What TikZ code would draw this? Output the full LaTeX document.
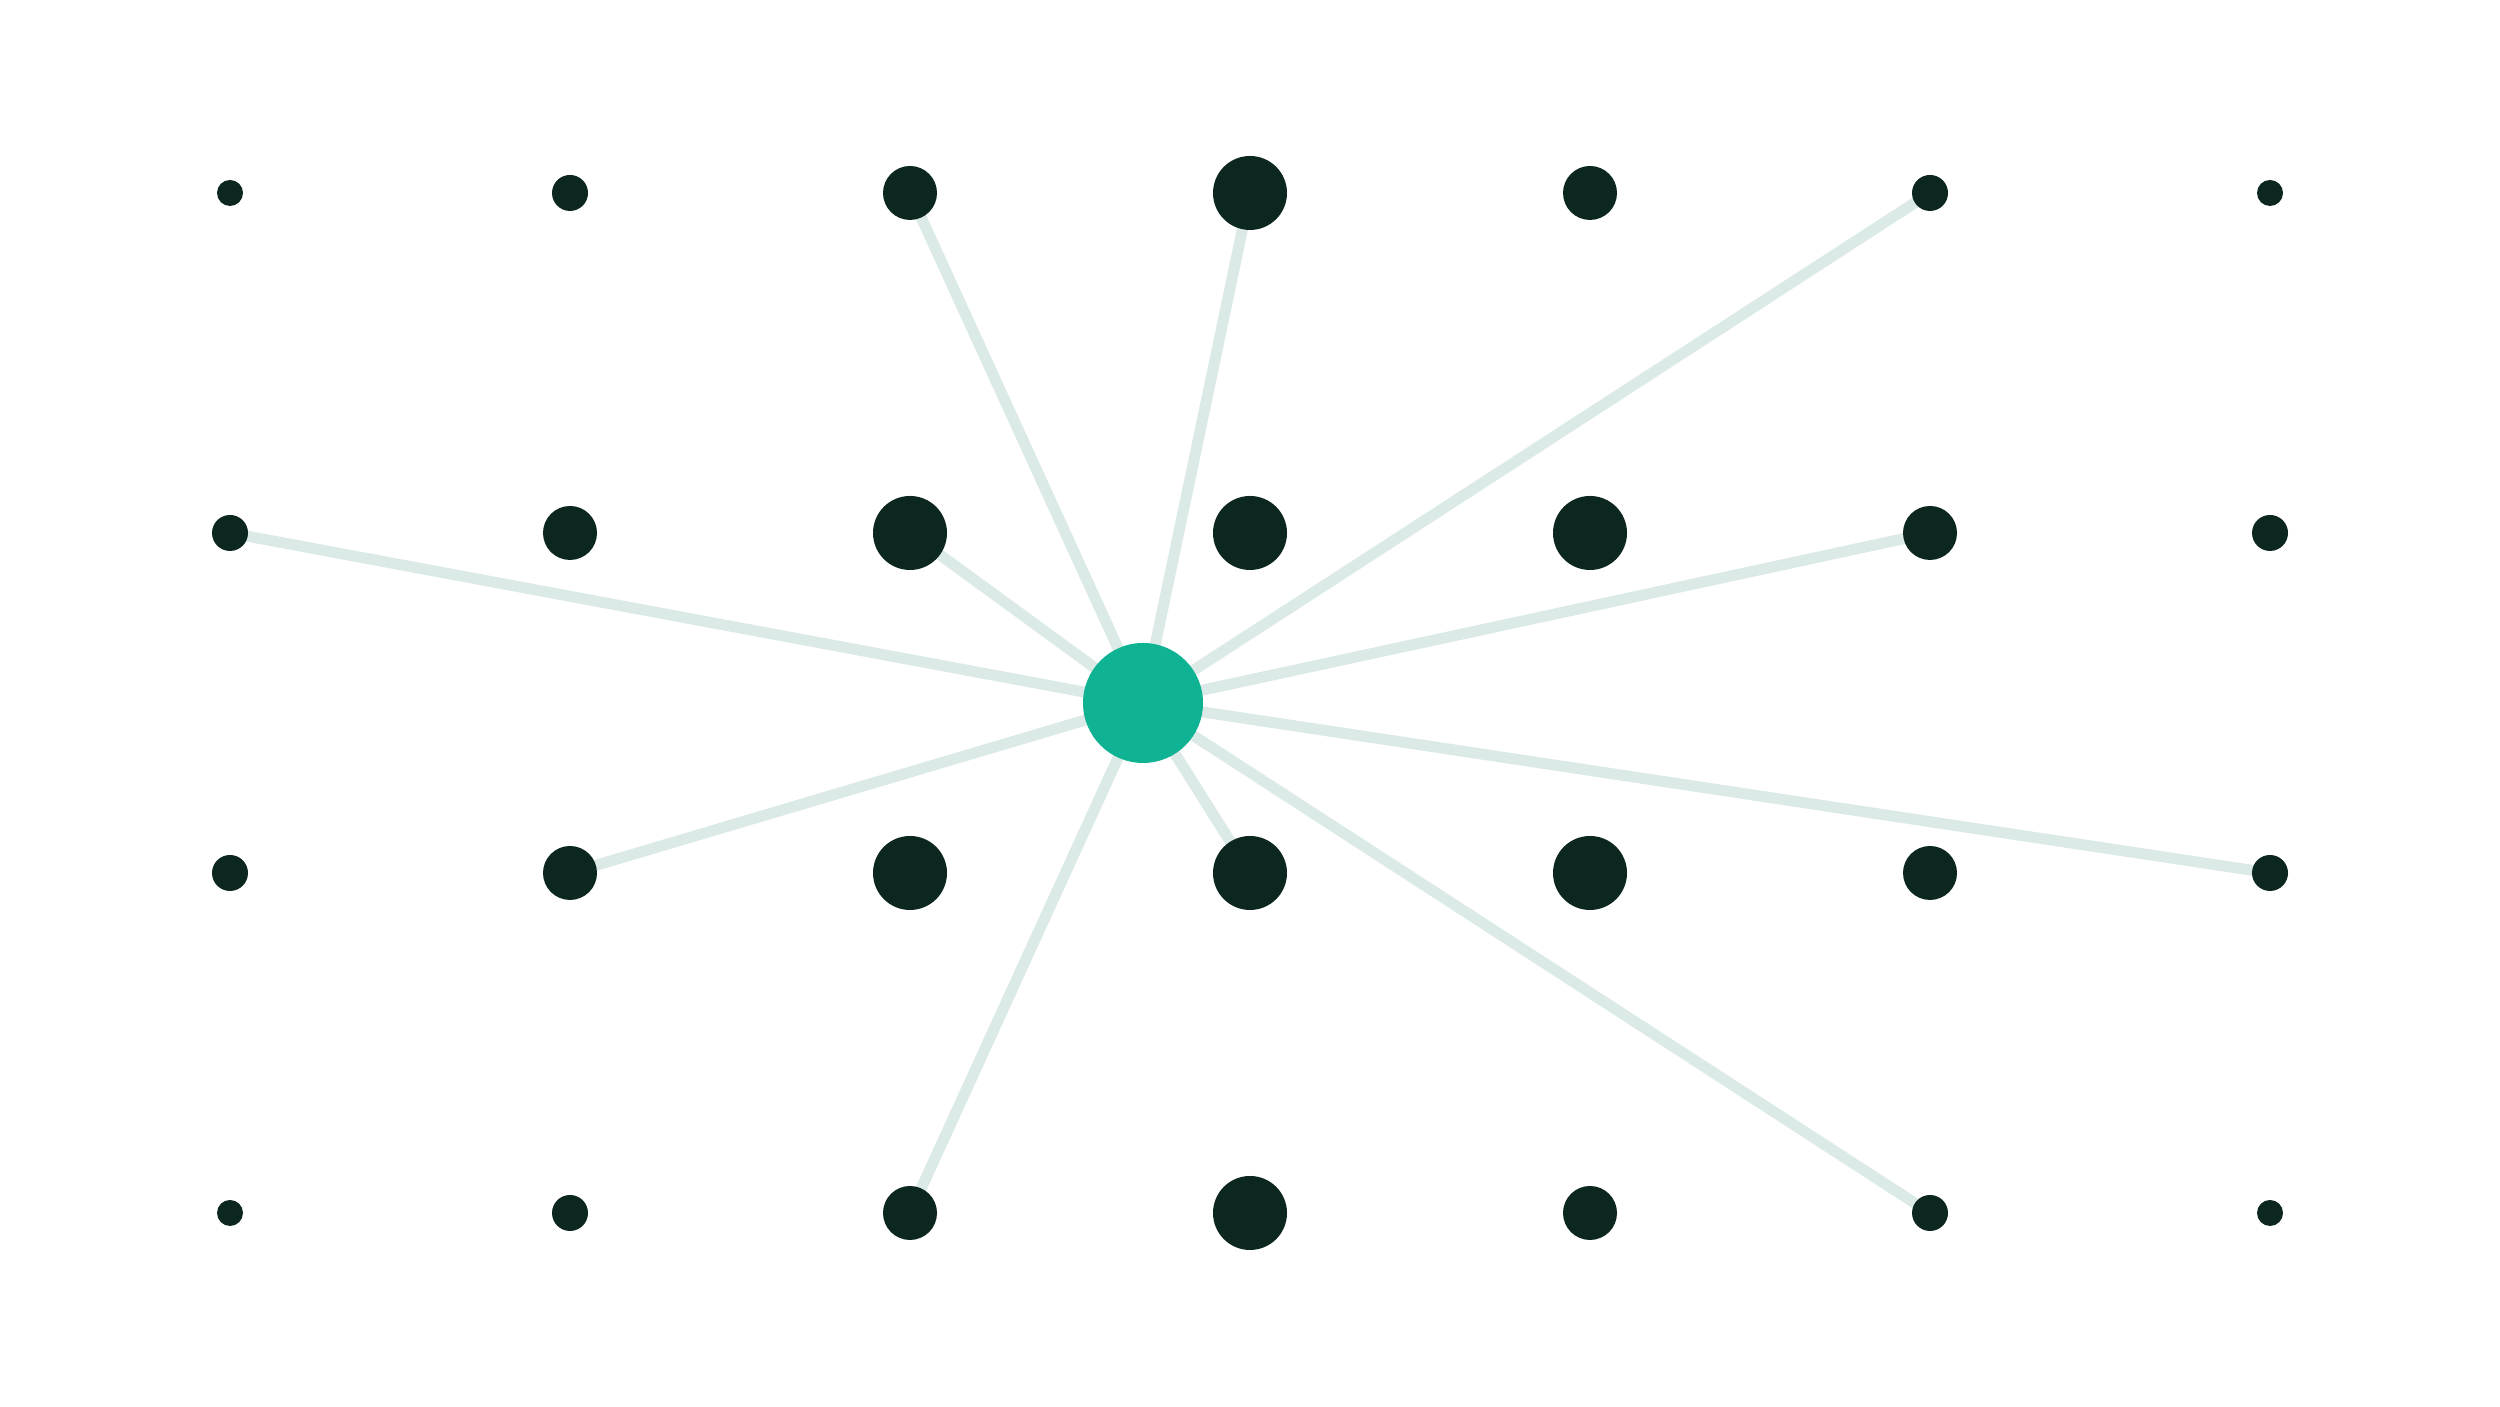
\documentclass[tikz,border=0pt]{standalone}
\usepackage{tikz}
\usetikzlibrary{backgrounds}
\definecolor{dotdark}{HTML}{0C2620}
\definecolor{hubgreen}{HTML}{10B294}
\definecolor{spokegrey}{HTML}{DBEAE6}
\tikzstyle{dot} = [circle, fill=dotdark, inner sep=0pt]
\tikzstyle{hub} = [circle, fill=hubgreen, inner sep=0pt, minimum size=1.2cm]
\tikzstyle{spoke} = [draw=spokegrey, line width=0.11cm]
\begin{document}
\begin{tikzpicture}

\useasboundingbox (0,0) rectangle (25,14.07);

    	%outer rows
\foreach \i/\d in {0/0.26, 1/0.36, 2/0.54, 3/0.74, 4/0.54, 5/0.36, 6/0.26}{
	\node [dot, minimum size=\d cm] (a\i) at (2.3+3.4*\i,12.14) {};
	\node [dot, minimum size=\d cm] (d\i) at (2.3+3.4*\i,1.94) {};
}
    	%middle rows
\foreach \i/\d in {0/0.36, 1/0.54, 2/0.74, 3/0.74, 4/0.74, 5/0.54, 6/0.36}{
	\node [dot, minimum size=\d cm] (b\i) at (2.3+3.4*\i,8.74) {};
	\node [dot, minimum size=\d cm] (c\i) at (2.3+3.4*\i,5.34) {};
}

\node [hub] at (11.43,7.04) (hub) {};

\begin{scope}[on background layer]
\foreach \target in {a2, a3, a5, b0, b2, b5, c1, c3, c6, d2, d5}
	\draw [spoke] (hub.center) -- (\target.center);
\end{scope}

\end{tikzpicture}
\end{document}
